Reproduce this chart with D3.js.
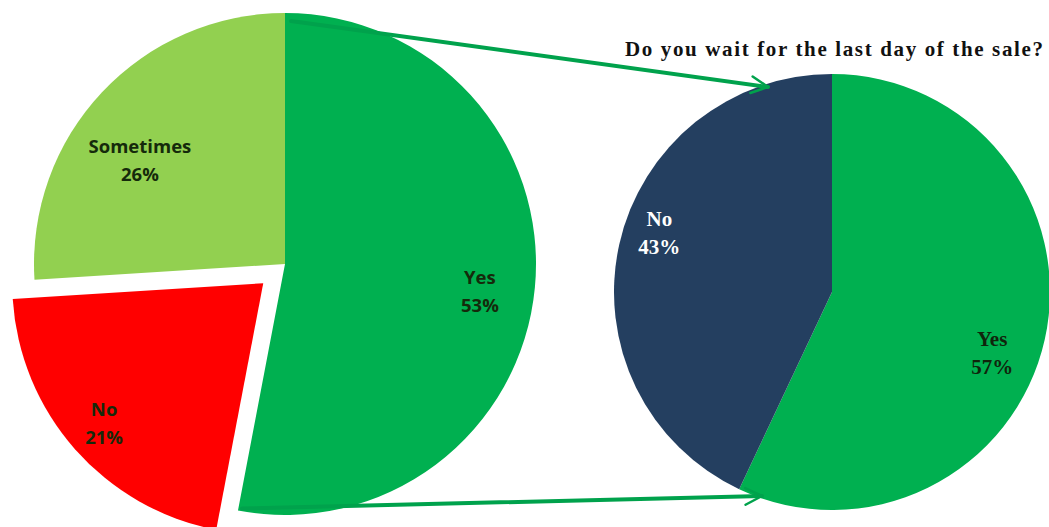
<!DOCTYPE html>
<html>
<head>
<meta charset="utf-8">
<script src="https://cdn.jsdelivr.net/npm/d3@7"></script>
<style>
  html, body { margin: 0; padding: 0; background: #ffffff; }
  svg { display: block; }
</style>
</head>
<body>
<script>
// Survey answers: main question (left pie) and the follow-up asked of the "Yes" group (right pie)
const mainCategories = ["Yes", "No", "Sometimes"];
const mainValues = [53, 21, 26];
const mainColors = ["#00b050", "#ff0000", "#92d050"];

const followCategories = ["Yes", "No"];
const followValues = [57, 43];
const followColors = ["#00b050", "#243f60"];

const followTitle = "Do you wait for the last day of the sale?";

const W = 1049, H = 527;
const svg = d3.select("body").append("svg").attr("width", W).attr("height", H);

// Layout
const main = { cx: 285, cy: 264, r: 251 };
const follow = { cx: 832, cy: 292, r: 218 };
const explodeNo = 29;

const pie = d3.pie().sort(null).value(d => d.value);
const fmtPct = d => d + "%";

// arrow marker (open V head)
svg.append("defs").append("marker")
  .attr("id", "vhead")
  .attr("viewBox", "0 0 12 12")
  .attr("refX", 11).attr("refY", 6)
  .attr("markerWidth", 5).attr("markerHeight", 5)
  .attr("markerUnits", "strokeWidth")
  .attr("orient", "auto")
  .append("path")
  .attr("d", "M1,1 L11,6 L1,11")
  .attr("fill", "none")
  .attr("stroke", "#00a24c")
  .attr("stroke-width", 1.5)
  .attr("stroke-linecap", "round")
  .attr("stroke-linejoin", "round");

// ---- Left pie ----
const mainData = mainCategories.map((c, i) => ({ cat: c, value: mainValues[i], color: mainColors[i] }));
const mainArcs = pie(mainData);
const mainArc = d3.arc().innerRadius(0).outerRadius(main.r);

const gMain = svg.append("g").attr("transform", `translate(${main.cx},${main.cy})`);

function explodeOffset(d, dist) {
  const a = (d.startAngle + d.endAngle) / 2;
  return [Math.sin(a) * dist, -Math.cos(a) * dist];
}

gMain.selectAll("path.slice")
  .data(mainArcs)
  .join("path")
  .attr("class", "slice")
  .attr("d", mainArc)
  .attr("fill", d => d.data.color)
  .attr("transform", d => {
    if (d.data.cat !== "No") return null;
    const [dx, dy] = explodeOffset(d, explodeNo);
    return `translate(${dx},${dy})`;
  });

// label placement: radius fraction and small nudges per slice
const mainLabelPos = { "Yes": [0.78, 0, 9], "No": [0.84, -1, 0], "Sometimes": [0.70, -17, 16] };
gMain.selectAll("text.lbl")
  .data(mainArcs)
  .join("text")
  .attr("class", "lbl")
  .attr("text-anchor", "middle")
  .attr("font-family", "'Open Sans', Lato, sans-serif")
  .attr("font-weight", "bold")
  .attr("font-size", 18.5)
  .attr("fill", "#152a0b")
  .each(function (d) {
    const p = mainLabelPos[d.data.cat];
    const a = (d.startAngle + d.endAngle) / 2;
    let x = Math.sin(a) * main.r * p[0] + p[1];
    let y = -Math.cos(a) * main.r * p[0] + p[2];
    if (d.data.cat === "No") {
      const [dx, dy] = explodeOffset(d, explodeNo);
      x += dx; y += dy;
    }
    const t = d3.select(this);
    t.append("tspan").attr("x", x).attr("y", y - 7).text(d.data.cat);
    t.append("tspan").attr("x", x).attr("y", y + 21).text(fmtPct(d.data.value));
  });

// ---- Right pie ----
const followData = followCategories.map((c, i) => ({ cat: c, value: followValues[i], color: followColors[i] }));
const followArcs = pie(followData);
const followArc = d3.arc().innerRadius(0).outerRadius(follow.r);

const gFollow = svg.append("g").attr("transform", `translate(${follow.cx},${follow.cy})`);
gFollow.selectAll("path.slice")
  .data(followArcs)
  .join("path")
  .attr("class", "slice")
  .attr("d", followArc)
  .attr("fill", d => d.data.color);

const followLabelPos = { "Yes": [0.80, -10, 22], "No": [0.84, 6, -20] };
gFollow.selectAll("text.lbl")
  .data(followArcs)
  .join("text")
  .attr("class", "lbl")
  .attr("text-anchor", "middle")
  .attr("font-family", "'Liberation Serif', 'Times New Roman', serif")
  .attr("font-weight", "bold")
  .attr("font-size", 21)
  .attr("fill", d => d.data.cat === "No" ? "#ffffff" : "#10240c")
  .each(function (d) {
    const p = followLabelPos[d.data.cat];
    const a = (d.startAngle + d.endAngle) / 2;
    const x = Math.sin(a) * follow.r * p[0] + p[1];
    const y = -Math.cos(a) * follow.r * p[0] + p[2];
    const t = d3.select(this);
    t.append("tspan").attr("x", x).attr("y", y - 6).text(d.data.cat);
    t.append("tspan").attr("x", x).attr("y", y + 22).text(fmtPct(d.data.value));
  });

// title of the follow-up pie
svg.append("text")
  .attr("x", 625).attr("y", 56)
  .attr("font-family", "'Liberation Serif', 'Times New Roman', serif")
  .attr("font-weight", "bold")
  .attr("font-size", 21)
  .attr("fill", "#111111")
  .attr("textLength", 418)
  .attr("lengthAdjust", "spacing")
  .text(followTitle);

// ---- Connector arrows from the "Yes" slice to the follow-up pie ----
const yesArc = mainArcs[0];
const topStart = [main.cx + 6, main.cy - main.r + 8];
const botStart = [main.cx + Math.sin(yesArc.endAngle) * main.r + 4,
                  main.cy - Math.cos(yesArc.endAngle) * main.r - 2];
const topEnd = [follow.cx - 64, follow.cy - follow.r + 13];
const botEnd = [follow.cx - 70, follow.cy + follow.r - 14];

[[topStart, topEnd], [botStart, botEnd]].forEach(([s, e]) => {
  svg.append("line")
    .attr("x1", s[0]).attr("y1", s[1])
    .attr("x2", e[0]).attr("y2", e[1])
    .attr("stroke", "#00a24c")
    .attr("stroke-width", 4)
    .attr("stroke-linecap", "round")
    .attr("marker-end", "url(#vhead)");
});
</script>
</body>
</html>
